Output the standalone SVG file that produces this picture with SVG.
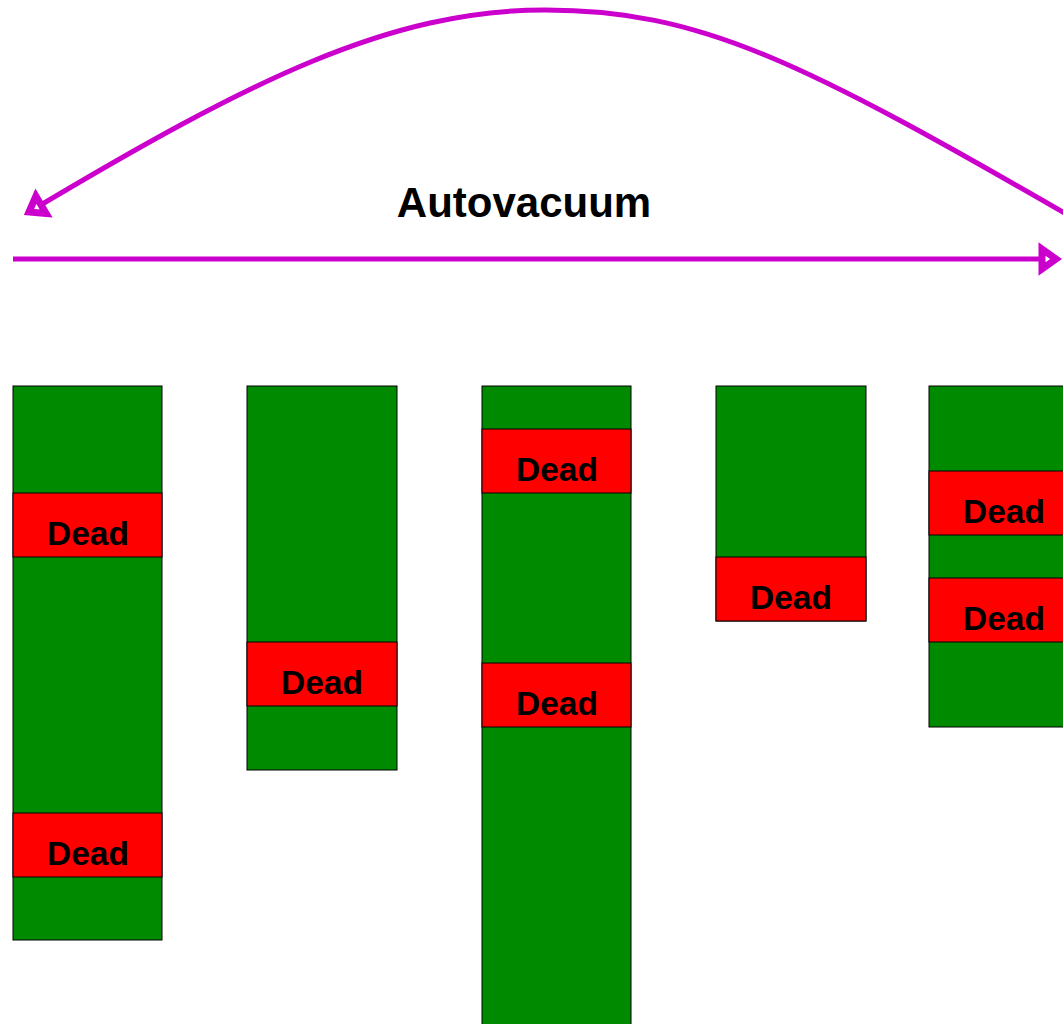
<svg xmlns="http://www.w3.org/2000/svg" width="1063" height="1024" viewBox="0 0 1063 1024">
<style>
.live{fill:#008a00;stroke:#000;stroke-width:1}
.dead{fill:#ff0000;stroke:#000;stroke-width:1}
.lbl{font-family:"Liberation Sans",Arial,sans-serif;font-weight:bold;font-size:33.5px;fill:#000;text-anchor:middle}
.title{font-family:"Liberation Sans",Arial,sans-serif;font-weight:bold;font-size:42px;fill:#000;text-anchor:middle}
.conn{fill:none;stroke:#cc00cc;stroke-width:5}
</style>
<defs>
<marker id="arr" markerUnits="userSpaceOnUse" markerWidth="40" markerHeight="40" viewBox="-20 -20 40 40" refX="0" refY="0" orient="auto" overflow="visible">
<path d="M-14,-10 L0,0 L-14,10 Z" fill="#fff" stroke="#cc00cc" stroke-width="7" stroke-linejoin="miter" stroke-miterlimit="10"/>
</marker>
</defs>
<rect width="1063" height="1024" fill="#fff"/>
<g id="connectors">
<path class="conn" d="M13,259 L1056,259" marker-end="url(#arr)"/>
<path class="conn" d="M1080,222 C800,60 700,10 545,10 C390,10 250,80 29,212" marker-end="url(#arr)"/>
</g>
<g id="title"><text class="title" x="524" y="217">Autovacuum</text></g>
<g id="col1">
<rect class="live" x="13" y="386" width="149" height="554"/>
<rect class="dead" x="13" y="493" width="149" height="64"/>
<text class="lbl" x="88" y="545">Dead</text>
<rect class="dead" x="13" y="813" width="149" height="64"/>
<text class="lbl" x="88" y="865">Dead</text>
</g>
<g id="col2">
<rect class="live" x="247" y="386" width="150" height="384"/>
<rect class="dead" x="247" y="642" width="150" height="64"/>
<text class="lbl" x="322" y="694">Dead</text>
</g>
<g id="col3">
<rect class="live" x="482" y="386" width="149" height="650"/>
<rect class="dead" x="482" y="429" width="149" height="64"/>
<text class="lbl" x="557" y="481">Dead</text>
<rect class="dead" x="482" y="663" width="149" height="64"/>
<text class="lbl" x="557" y="715">Dead</text>
</g>
<g id="col4">
<rect class="live" x="716" y="386" width="150" height="235"/>
<rect class="dead" x="716" y="557" width="150" height="64"/>
<text class="lbl" x="791" y="609">Dead</text>
</g>
<g id="col5">
<rect class="live" x="929" y="386" width="150" height="341"/>
<rect class="dead" x="929" y="471" width="150" height="64"/>
<text class="lbl" x="1004" y="523">Dead</text>
<rect class="dead" x="929" y="578" width="150" height="64"/>
<text class="lbl" x="1004" y="630">Dead</text>
</g>
</svg>
